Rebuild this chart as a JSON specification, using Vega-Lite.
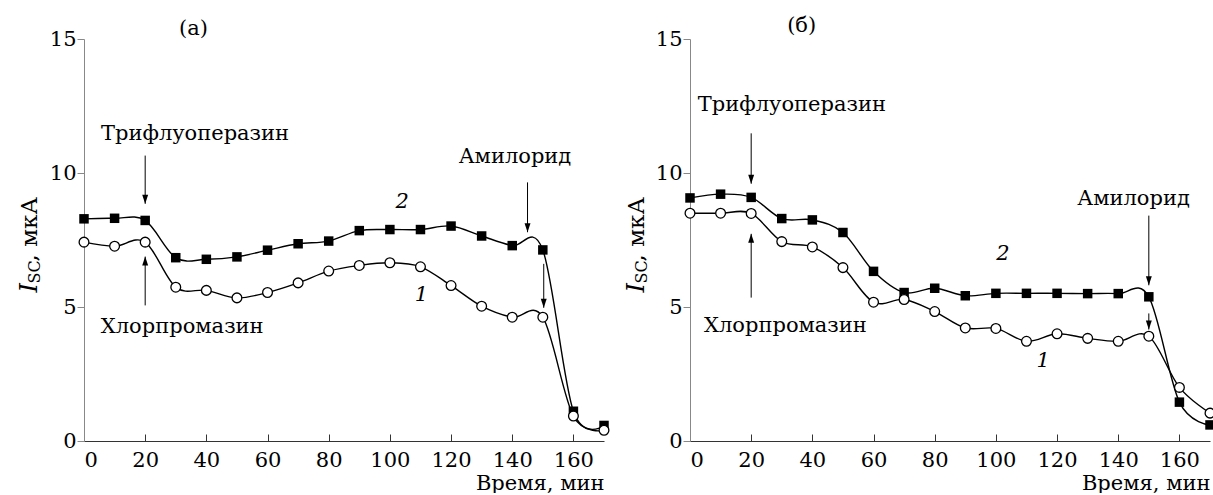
{
  "$schema": "https://vega.github.io/schema/vega-lite/v6.json",
  "padding": {"left": 17, "top": 14, "right": 0, "bottom": 0},
  "background": "white",
  "datasets": {
    "lines": [
      {"p":"a","s":"2","t":0,"v":8.29},{"p":"a","s":"2","t":10,"v":8.31},{"p":"a","s":"2","t":20,"v":8.23},{"p":"a","s":"2","t":30,"v":6.84},{"p":"a","s":"2","t":40,"v":6.78},{"p":"a","s":"2","t":50,"v":6.87},{"p":"a","s":"2","t":60,"v":7.12},{"p":"a","s":"2","t":70,"v":7.36},{"p":"a","s":"2","t":80,"v":7.46},{"p":"a","s":"2","t":90,"v":7.85},{"p":"a","s":"2","t":100,"v":7.89},{"p":"a","s":"2","t":110,"v":7.89},{"p":"a","s":"2","t":120,"v":8.02},{"p":"a","s":"2","t":130,"v":7.65},{"p":"a","s":"2","t":140,"v":7.29},{"p":"a","s":"2","t":150,"v":7.13},{"p":"a","s":"2","t":160,"v":1.11},{"p":"a","s":"2","t":170,"v":0.58},
      {"p":"a","s":"1","t":0,"v":7.42},{"p":"a","s":"1","t":10,"v":7.27},{"p":"a","s":"1","t":20,"v":7.42},{"p":"a","s":"1","t":30,"v":5.74},{"p":"a","s":"1","t":40,"v":5.62},{"p":"a","s":"1","t":50,"v":5.34},{"p":"a","s":"1","t":60,"v":5.54},{"p":"a","s":"1","t":70,"v":5.9},{"p":"a","s":"1","t":80,"v":6.34},{"p":"a","s":"1","t":90,"v":6.55},{"p":"a","s":"1","t":100,"v":6.65},{"p":"a","s":"1","t":110,"v":6.5},{"p":"a","s":"1","t":120,"v":5.8},{"p":"a","s":"1","t":130,"v":5.03},{"p":"a","s":"1","t":140,"v":4.62},{"p":"a","s":"1","t":150,"v":4.62},{"p":"a","s":"1","t":160,"v":0.93},{"p":"a","s":"1","t":170,"v":0.4},
      {"p":"b","s":"2","t":0,"v":9.07},{"p":"b","s":"2","t":10,"v":9.21},{"p":"b","s":"2","t":20,"v":9.09},{"p":"b","s":"2","t":30,"v":8.3},{"p":"b","s":"2","t":40,"v":8.25},{"p":"b","s":"2","t":50,"v":7.78},{"p":"b","s":"2","t":60,"v":6.33},{"p":"b","s":"2","t":70,"v":5.54},{"p":"b","s":"2","t":80,"v":5.7},{"p":"b","s":"2","t":90,"v":5.42},{"p":"b","s":"2","t":100,"v":5.51},{"p":"b","s":"2","t":110,"v":5.51},{"p":"b","s":"2","t":120,"v":5.51},{"p":"b","s":"2","t":130,"v":5.5},{"p":"b","s":"2","t":140,"v":5.5},{"p":"b","s":"2","t":150,"v":5.38},{"p":"b","s":"2","t":160,"v":1.45},{"p":"b","s":"2","t":170,"v":0.6},
      {"p":"b","s":"1","t":0,"v":8.5},{"p":"b","s":"1","t":10,"v":8.5},{"p":"b","s":"1","t":20,"v":8.49},{"p":"b","s":"1","t":30,"v":7.44},{"p":"b","s":"1","t":40,"v":7.24},{"p":"b","s":"1","t":50,"v":6.47},{"p":"b","s":"1","t":60,"v":5.18},{"p":"b","s":"1","t":70,"v":5.28},{"p":"b","s":"1","t":80,"v":4.83},{"p":"b","s":"1","t":90,"v":4.22},{"p":"b","s":"1","t":100,"v":4.2},{"p":"b","s":"1","t":110,"v":3.72},{"p":"b","s":"1","t":120,"v":4.0},{"p":"b","s":"1","t":130,"v":3.83},{"p":"b","s":"1","t":140,"v":3.72},{"p":"b","s":"1","t":150,"v":3.91},{"p":"b","s":"1","t":160,"v":2.0},{"p":"b","s":"1","t":170,"v":1.04}
    ],
    "arrows": [
      {"p":"a","dir":"down","t":20,"v1":10.65,"v2":8.85},
      {"p":"a","dir":"up","t":20,"v1":5.06,"v2":6.88},
      {"p":"a","dir":"down","t":145,"v1":9.65,"v2":7.79},
      {"p":"a","dir":"down","t":150.3,"v1":6.61,"v2":4.97},
      {"p":"b","dir":"down","t":20,"v1":11.48,"v2":9.6},
      {"p":"b","dir":"up","t":20,"v1":5.35,"v2":7.73},
      {"p":"b","dir":"down","t":150,"v1":8.41,"v2":5.81},
      {"p":"b","dir":"down","t":150,"v1":4.76,"v2":4.16}
    ],
    "labels": [
      {"p":"a","label":"(а)","t":35.8,"v":15.38},
      {"p":"a","label":"Трифлуоперазин","t":36.3,"v":11.47},
      {"p":"a","label":"Хлорпромазин","t":32.1,"v":4.25},
      {"p":"a","label":"Амилорид","t":140.9,"v":10.58},
      {"p":"b","label":"(б)","t":36.5,"v":15.5},
      {"p":"b","label":"Трифлуоперазин","t":33.3,"v":12.54},
      {"p":"b","label":"Хлорпромазин","t":31.2,"v":4.29},
      {"p":"b","label":"Амилорид","t":145,"v":9.04}
    ],
    "numbers": [
      {"p":"a","label":"2","t":104,"v":8.91},
      {"p":"a","label":"1","t":110.3,"v":5.43},
      {"p":"b","label":"2","t":102.3,"v":6.98},
      {"p":"b","label":"1","t":115.5,"v":2.97}
    ],
    "ytitle": [
      {"p":"a","label":"I","t":-15.4,"v":5.54},
      {"p":"a","label":"SC","t":-14.3,"v":5.88},
      {"p":"a","label":", мкА","t":-15.4,"v":6.7},
      {"p":"b","label":"I","t":-15.2,"v":5.54},
      {"p":"b","label":"SC","t":-14.1,"v":5.88},
      {"p":"b","label":", мкА","t":-15.2,"v":6.7}
    ]
  },
  "spacing": 86,
  "bounds": "flush",
  "hconcat": [
    {
      "width": 520,
      "height": 402,
      "layer": [
        {"data":{"name":"lines"},"transform":[{"filter":"datum.p=='a'"}],
         "mark":{"type":"line","interpolate":"cardinal","color":"black","strokeWidth":1.4},
         "encoding":{
           "x":{"field":"t","type":"quantitative","title":"Время, мин","scale":{"domain":[0,170],"nice":false,"zero":false},
                "axis":{"values":[0,10,20,30,40,50,60,70,80,90,100,110,120,130,140,150,160,170],"labelExpr":"datum.value % 20 === 0 ? datum.label : ''"}},
           "y":{"field":"v","type":"quantitative","title":null,"scale":{"domain":[0,15],"nice":false},
                "axis":{"values":[0,5,10,15]}},
           "detail":{"field":"s"}}},
        {"data":{"name":"lines"},"transform":[{"filter":"datum.p=='a' && datum.s=='2'"}],
         "mark":{"type":"point","shape":"square","filled":true,"color":"black","size":90,"opacity":1},
         "encoding":{"x":{"field":"t","type":"quantitative"},"y":{"field":"v","type":"quantitative"}}},
        {"data":{"name":"lines"},"transform":[{"filter":"datum.p=='a' && datum.s=='1'"}],
         "mark":{"type":"point","shape":"circle","filled":true,"fill":"white","stroke":"black","strokeWidth":1.3,"size":95,"opacity":1},
         "encoding":{"x":{"field":"t","type":"quantitative"},"y":{"field":"v","type":"quantitative"}}},
        {"data":{"name":"arrows"},"transform":[{"filter":"datum.p=='a'"}],
         "mark":{"type":"rule","color":"black","strokeWidth":1},
         "encoding":{"x":{"field":"t","type":"quantitative"},"y":{"field":"v1","type":"quantitative"},"y2":{"field":"v2"}}},
        {"data":{"name":"arrows"},"transform":[{"filter":"datum.p=='a' && datum.dir=='down'"}],
         "mark":{"type":"point","shape":"M-0.33,-1L0.33,-1L0,0Z","filled":true,"color":"black","size":324,"opacity":1},
         "encoding":{"x":{"field":"t","type":"quantitative"},"y":{"field":"v2","type":"quantitative"}}},
        {"data":{"name":"arrows"},"transform":[{"filter":"datum.p=='a' && datum.dir=='up'"}],
         "mark":{"type":"point","shape":"M-0.33,1L0.33,1L0,0Z","filled":true,"color":"black","size":324,"opacity":1},
         "encoding":{"x":{"field":"t","type":"quantitative"},"y":{"field":"v2","type":"quantitative"}}},
        {"data":{"name":"labels"},"transform":[{"filter":"datum.p=='a'"}],
         "mark":{"type":"text","font":"DejaVu Serif","fontSize":21,"align":"center","baseline":"middle","color":"black"},
         "encoding":{"x":{"field":"t","type":"quantitative"},"y":{"field":"v","type":"quantitative"},"text":{"field":"label"}}},
        {"data":{"name":"numbers"},"transform":[{"filter":"datum.p=='a'"}],
         "mark":{"type":"text","font":"DejaVu Serif","fontSize":21,"fontStyle":"italic","align":"center","baseline":"middle","color":"black"},
         "encoding":{"x":{"field":"t","type":"quantitative"},"y":{"field":"v","type":"quantitative"},"text":{"field":"label"}}},
        {"data":{"name":"ytitle"},"transform":[{"filter":"datum.p=='a' && datum.label=='I'"}],
         "mark":{"type":"text","font":"DejaVu Serif","fontSize":24,"fontStyle":"italic","align":"left","baseline":"alphabetic","angle":270,"color":"black"},
         "encoding":{"x":{"field":"t","type":"quantitative"},"y":{"field":"v","type":"quantitative"},"text":{"field":"label"}}},
        {"data":{"name":"ytitle"},"transform":[{"filter":"datum.p=='a' && datum.label=='SC'"}],
         "mark":{"type":"text","font":"DejaVu Serif","fontSize":16,"align":"left","baseline":"alphabetic","angle":270,"color":"black"},
         "encoding":{"x":{"field":"t","type":"quantitative"},"y":{"field":"v","type":"quantitative"},"text":{"field":"label"}}},
        {"data":{"name":"ytitle"},"transform":[{"filter":"datum.p=='a' && datum.label==', мкА'"}],
         "mark":{"type":"text","font":"DejaVu Serif","fontSize":23,"align":"left","baseline":"alphabetic","angle":270,"color":"black"},
         "encoding":{"x":{"field":"t","type":"quantitative"},"y":{"field":"v","type":"quantitative"},"text":{"field":"label"}}}
      ]
    },
    {
      "width": 520,
      "height": 402,
      "layer": [
        {"data":{"name":"lines"},"transform":[{"filter":"datum.p=='b'"}],
         "mark":{"type":"line","interpolate":"cardinal","color":"black","strokeWidth":1.4},
         "encoding":{
           "x":{"field":"t","type":"quantitative","title":"Время, мин","scale":{"domain":[0,170],"nice":false,"zero":false},
                "axis":{"values":[0,10,20,30,40,50,60,70,80,90,100,110,120,130,140,150,160,170],"labelExpr":"datum.value % 20 === 0 ? datum.label : ''"}},
           "y":{"field":"v","type":"quantitative","title":null,"scale":{"domain":[0,15],"nice":false},
                "axis":{"values":[0,5,10,15]}},
           "detail":{"field":"s"}}},
        {"data":{"name":"lines"},"transform":[{"filter":"datum.p=='b' && datum.s=='2'"}],
         "mark":{"type":"point","shape":"square","filled":true,"color":"black","size":90,"opacity":1},
         "encoding":{"x":{"field":"t","type":"quantitative"},"y":{"field":"v","type":"quantitative"}}},
        {"data":{"name":"lines"},"transform":[{"filter":"datum.p=='b' && datum.s=='1'"}],
         "mark":{"type":"point","shape":"circle","filled":true,"fill":"white","stroke":"black","strokeWidth":1.3,"size":95,"opacity":1},
         "encoding":{"x":{"field":"t","type":"quantitative"},"y":{"field":"v","type":"quantitative"}}},
        {"data":{"name":"arrows"},"transform":[{"filter":"datum.p=='b'"}],
         "mark":{"type":"rule","color":"black","strokeWidth":1},
         "encoding":{"x":{"field":"t","type":"quantitative"},"y":{"field":"v1","type":"quantitative"},"y2":{"field":"v2"}}},
        {"data":{"name":"arrows"},"transform":[{"filter":"datum.p=='b' && datum.dir=='down'"}],
         "mark":{"type":"point","shape":"M-0.33,-1L0.33,-1L0,0Z","filled":true,"color":"black","size":324,"opacity":1},
         "encoding":{"x":{"field":"t","type":"quantitative"},"y":{"field":"v2","type":"quantitative"}}},
        {"data":{"name":"arrows"},"transform":[{"filter":"datum.p=='b' && datum.dir=='up'"}],
         "mark":{"type":"point","shape":"M-0.33,1L0.33,1L0,0Z","filled":true,"color":"black","size":324,"opacity":1},
         "encoding":{"x":{"field":"t","type":"quantitative"},"y":{"field":"v2","type":"quantitative"}}},
        {"data":{"name":"labels"},"transform":[{"filter":"datum.p=='b'"}],
         "mark":{"type":"text","font":"DejaVu Serif","fontSize":21,"align":"center","baseline":"middle","color":"black"},
         "encoding":{"x":{"field":"t","type":"quantitative"},"y":{"field":"v","type":"quantitative"},"text":{"field":"label"}}},
        {"data":{"name":"numbers"},"transform":[{"filter":"datum.p=='b'"}],
         "mark":{"type":"text","font":"DejaVu Serif","fontSize":21,"fontStyle":"italic","align":"center","baseline":"middle","color":"black"},
         "encoding":{"x":{"field":"t","type":"quantitative"},"y":{"field":"v","type":"quantitative"},"text":{"field":"label"}}},
        {"data":{"name":"ytitle"},"transform":[{"filter":"datum.p=='b' && datum.label=='I'"}],
         "mark":{"type":"text","font":"DejaVu Serif","fontSize":24,"fontStyle":"italic","align":"left","baseline":"alphabetic","angle":270,"color":"black"},
         "encoding":{"x":{"field":"t","type":"quantitative"},"y":{"field":"v","type":"quantitative"},"text":{"field":"label"}}},
        {"data":{"name":"ytitle"},"transform":[{"filter":"datum.p=='b' && datum.label=='SC'"}],
         "mark":{"type":"text","font":"DejaVu Serif","fontSize":16,"align":"left","baseline":"alphabetic","angle":270,"color":"black"},
         "encoding":{"x":{"field":"t","type":"quantitative"},"y":{"field":"v","type":"quantitative"},"text":{"field":"label"}}},
        {"data":{"name":"ytitle"},"transform":[{"filter":"datum.p=='b' && datum.label==', мкА'"}],
         "mark":{"type":"text","font":"DejaVu Serif","fontSize":23,"align":"left","baseline":"alphabetic","angle":270,"color":"black"},
         "encoding":{"x":{"field":"t","type":"quantitative"},"y":{"field":"v","type":"quantitative"},"text":{"field":"label"}}}
      ]
    }
  ],
  "config": {
    "view": {"stroke": null},
    "axis": {"grid": false, "labelFont": "DejaVu Serif", "labelFontSize": 21, "labelColor": "black", "titleFont": "DejaVu Serif", "titleFontSize": 21, "titleFontWeight": "normal", "titleColor": "black"},
    "axisX": {"domainColor": "#333333", "tickColor": "#333333", "tickSize": -7, "labelPadding": 15, "labelBaseline": "top", "labelAngle": 0, "labelOverlap": false, "titleAnchor": "end", "titleAlign": "right", "titleBaseline": "alphabetic", "titleY": 48},
    "axisY": {"domainColor": "#888888", "tickColor": "#888888", "tickSize": 7, "labelPadding": 1, "labelBaseline": "middle", "labelOverlap": false}
  }
}
